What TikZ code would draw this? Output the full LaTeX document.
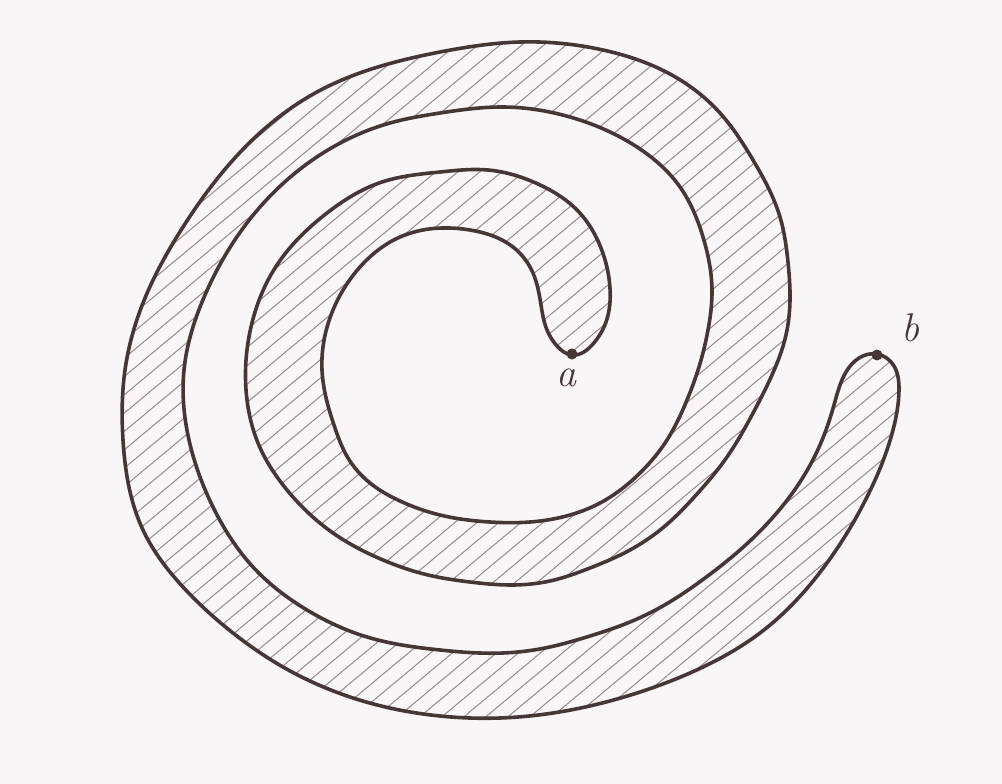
\documentclass[tikz,border=0pt]{standalone}
\usetikzlibrary{hobby}
\definecolor{ink}{RGB}{70,55,55}
\definecolor{hatchc}{RGB}{150,138,138}
\definecolor{paper}{RGB}{250,246,248}
\begin{document}
\begin{tikzpicture}[x=1pt,y=-1pt,
  outline/.style={draw=ink,line width=3.6pt,line join=round},
  hatchline/.style={draw=hatchc,line width=1pt},
  dot/.style={circle,fill=ink,inner sep=0pt,minimum size=11pt},
  lbl/.style={text=ink,font=\fontsize{40}{44}\selectfont\itshape}]
\fill[paper] (0,0) rectangle (1002,784);
\useasboundingbox (0,0) rectangle (1002,784);
\def\spiral{plot[closed hobby] coordinates {
 (572,355) (593,344) (606,322) (610,288) (601,248) (578,211) (538,184) (488,170)
 (440,172) (382,182) (327,213) (275,268) (251,327) (247,400) (258,443) (287,490)
 (333,533) (383,560) (428,575) (470,582) (510,585) (550,581) (590,568) (630,550)
 (665,526) (697,494) (727,457) (752,415) (772,375) (786,335) (790,300) (788,262) (780,217)
 (753,160) (720,113) (670,74)
 (603,50) (520,42) (440,52) (317,92) (233,160) (183,227) (143,303)
 (125,370) (123,440) (143,530) (183,587) (233,633) (283,667) (350,697)
 (440,716) (500,718) (553,713) (637,693) (703,667) (760,633) (827,563)
 (867,497) (893,430) (899,390) (894,366) (877,354)
 (859,358) (846,372) (834,405) (820,445) (800,482) (775,515) (740,550) (705,578)
 (668,603) (630,622) (590,636) (545,648) (503,653) (440,650) (367,637) (307,610) (253,567) (213,507)
 (189,440) (184,370) (205,295) (260,207) (333,147) (390,123) (440,113)
 (503,107) (570,117) (637,147) (680,187) (703,237) (712,290) (708,330) (699,367)
 (687,400) (667,440) (640,473) (600,503) (570,515) (530,522) (490,522) (440,515)
 (400,501) (370,483) (348,458) (335,428)
 (322,370) (333,310) (360,267) (400,237) (470,230) (513,247) (533,273)
 (541,305) (547,330) (557,346)}}
\begin{scope}
\clip \spiral;
\foreach \x in {-1000,-978,...,1000} \draw[hatchline] (\x,800) -- ({\x+960},0);
\end{scope}
\draw[outline] \spiral;
\node[dot] (a) at (572,354) {};
\node[dot] (b) at (877,355) {};
\node[lbl] (la) at (566,378) {a};
\node[lbl] (lb) at (910,328) {b};
\end{tikzpicture}
\end{document}
